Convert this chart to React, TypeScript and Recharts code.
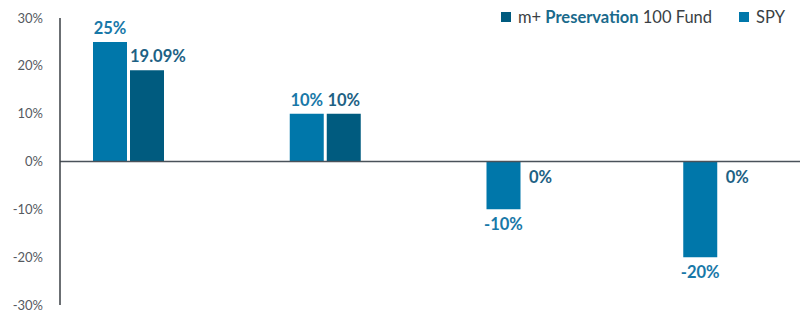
import { BarChart, Bar, XAxis, YAxis, ReferenceLine } from "recharts";

const categories = ["Year 1", "Year 2", "Year 3", "Year 4"];
const spyValues = [25, 10, -10, -20];
const fundValues = [19.09, 10, 0, 0];
const yTicks = [-30, -20, -10, 0, 10, 20, 30];

const SPY_COLOR = "#0077aa";
const FUND_COLOR = "#005b7f";

const data = categories.map((name, i) => ({
  name,
  spy: spyValues[i],
  fund: fundValues[i],
}));

const fmt = (v: number) => `${v}%`;

const makeLabel = (color: string) => (props: any) => {
  const { x, y, width, height, value } = props;
  const text = fmt(value);
  const top = Math.min(y, y + height);
  const bottom = Math.max(y, y + height);
  const above = value > 0;
  const ty = above ? top - 14 : bottom + 15;
  // long labels start at the bar's left edge instead of centring
  const wide = text.length > 4;
  return (
    <text
      x={wide ? x : x + width / 2}
      y={ty}
      textAnchor={wide ? "start" : "middle"}
      dominantBaseline="central"
      fill={color}
      fontSize={16.5}
      fontWeight={700}
      fontFamily="Lato, sans-serif"
    >
      {text}
    </text>
  );
};

const LegendBox = () => (
  <div
    style={{
      position: "absolute",
      top: 7,
      right: 15,
      display: "flex",
      alignItems: "center",
      fontFamily: "Lato, sans-serif",
      fontSize: 16.5,
      color: "#3a3f44",
    }}
  >
    <span style={{ width: 10, height: 10, background: FUND_COLOR, display: "inline-block", marginRight: 7 }} />
    <span>
      m+ <b style={{ color: "#1a6a8c" }}>Preservation</b> 100 Fund
    </span>
    <span style={{ width: 10, height: 10, background: SPY_COLOR, display: "inline-block", marginLeft: 27, marginRight: 7 }} />
    <span>SPY</span>
  </div>
);

export default function App() {
  return (
    <div style={{ position: "relative", width: 800, height: 314 }}>
      <style>{`body{margin:0}`}</style>
      <BarChart
        width={800}
        height={314}
        data={data}
        margin={{ top: 18, right: 0, bottom: 9, left: 0 }}
        barSize={34}
        barGap={3}
      >
        <XAxis dataKey="name" hide padding={{ left: -30, right: -17 }} />
        <YAxis
          domain={[-30, 30]}
          ticks={yTicks}
          width={60}
          tickFormatter={fmt}
          tickLine={false}
          tickSize={0}
          tickMargin={17}
          interval={0}
          axisLine={{ stroke: "#3a3f44", strokeWidth: 1.5 }}
          tick={{ fill: "#555a5f", fontSize: 13, fontFamily: "Lato, sans-serif" }}
        />
        <ReferenceLine y={0} stroke="#4a525a" strokeWidth={1.5} />
        <Bar dataKey="spy" fill={SPY_COLOR} isAnimationActive={false} label={makeLabel("#1878a8")} />
        <Bar
          dataKey="fund"
          fill={FUND_COLOR}
          isAnimationActive={false}
          minPointSize={(v: number) => (v === 0 ? 0.01 : 0)}
          label={makeLabel("#1d6184")}
        />
      </BarChart>
      <LegendBox />
    </div>
  );
}
